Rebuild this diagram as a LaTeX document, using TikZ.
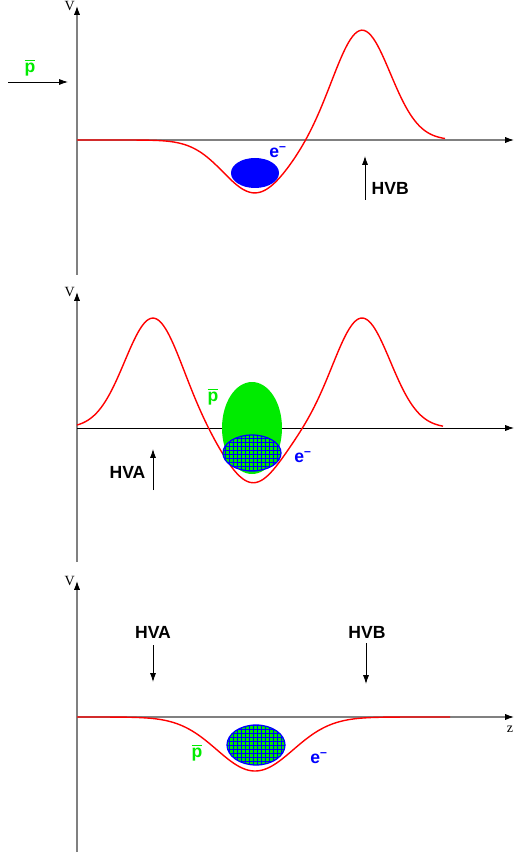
\documentclass[tikz,border=0pt]{standalone}
\usepackage{amsmath}
\usepackage{fontspec}
\setmainfont{Liberation Sans}
\newfontfamily\axisfont{Liberation Serif}
\usetikzlibrary{arrows, arrows.meta, positioning}
\definecolor{pbar}{RGB}{0,235,0}
\definecolor{axgray}{RGB}{128,128,128}

\begin{document}
\begin{tikzpicture}[x=0.02cm, y=-0.02cm]

\tikzset{axis/.style = {draw=axgray, line width=0.6pt, -{Latex[length=5pt,width=3.5pt,color=black]}}}
\tikzset{pot/.style = {red, line width=0.8pt}}
\tikzset{push/.style = {-{Latex[length=5pt,width=3.4pt]}, line width=0.5pt}}
\tikzset{lbl/.style = {font=\bfseries\fontsize{10}{12}\selectfont, inner sep=1pt}}
\tikzset{axlbl/.style = {font=\axisfont\fontsize{8}{9}\selectfont, inner sep=1pt}}
\tikzset{hatch/.style = {blue, line width=0.45pt}}

\useasboundingbox (0,0) rectangle (515,854);

% top panel: trap closed on the right
\coordinate (o1) at (77,140);
\coordinate (v1) at (77,6);
\coordinate (b1) at (77,275);
\coordinate (z1) at (514,140);
\draw[axis] (b1) -- (v1);
\draw[axis] (o1) -- (z1);
\node[axlbl, left=0pt] (V1) at (v1) {V};
\draw[pot] plot[domain=77:445, samples=160, smooth]
  (\x, {140 + 53*exp(-((\x-255)/45)*((\x-255)/45)) - 110*exp(-((\x-362)/40)*((\x-362)/40))});
\fill[blue] (255,173) ellipse [x radius=24, y radius=15];
\node[lbl, blue] (e1) at (278,152) {e\textsuperscript{\textendash}};
\coordinate (pin) at (8,82);
\coordinate (pout) at (68,82);
\draw[push] (pin) -- (pout);
\node[lbl, pbar] (p1) at (30,68) {$\overline{\mbox{\bfseries p}}$};
\coordinate (hvb1b) at (365,200);
\coordinate (hvb1t) at (365,156);
\draw[push] (hvb1b) -- (hvb1t);
\node[lbl, right=2pt] (hvb1) at (366,188) {HVB};

% middle panel: both walls up
\coordinate (o2) at (77,428);
\coordinate (v2) at (77,292);
\coordinate (b2) at (77,562);
\coordinate (z2) at (514,428);
\draw[axis] (b2) -- (v2);
\draw[axis, draw=black, line width=0.5pt] (o2) -- (z2);
\node[axlbl, left=0pt] (V2) at (v2) {V};
\draw[pot] plot[domain=77:443, samples=200, smooth]
  (\x, {428 - 110*exp(-((\x-153)/40)*((\x-153)/40)) - 110*exp(-((\x-362)/40)*((\x-362)/40)) + 55*exp(-((\x-253)/40)*((\x-253)/40))});
\fill[pbar] (252,428) ellipse [x radius=30, y radius=46];
\begin{scope}
  \clip (252,453) ellipse [x radius=29, y radius=18];
  \fill[pbar] (222,434) rectangle (282,472);
  \foreach \g in {221,225,...,285} \draw[hatch] (\g,432) -- (\g,474);
  \foreach \g in {434,438,...,474} \draw[hatch] (220,\g) -- (284,\g);
\end{scope}
\draw[blue, line width=0.7pt] (252,453) ellipse [x radius=29, y radius=18];
\node[lbl, pbar] (p2) at (213,397) {$\overline{\mbox{\bfseries p}}$};
\node[lbl, blue] (e2) at (303,457) {e\textsuperscript{\textendash}};
\coordinate (hva2b) at (153,490);
\coordinate (hva2t) at (153,449);
\draw[push] (hva2b) -- (hva2t);
\node[lbl, left=2pt] (hva2) at (151,472) {HVA};

% bottom panel: walls down, mixing
\coordinate (o3) at (77,717);
\coordinate (v3) at (77,581);
\coordinate (b3) at (77,852);
\coordinate (z3) at (514,717);
\draw[axis] (b3) -- (v3);
\draw[axis] (o3) -- (z3);
\node[axlbl, left=0pt] (V3) at (v3) {V};
\node[axlbl] (Z3) at (510,729) {z};
\draw[pot] plot[domain=77:450, samples=160, smooth]
  (\x, {717 + 54*exp(-((\x-255)/54)*((\x-255)/54))});
\begin{scope}
  \clip (256,745) ellipse [x radius=29, y radius=20];
  \fill[pbar] (226,724) rectangle (286,766);
  \foreach \g in {225,229,...,289} \draw[hatch] (\g,722) -- (\g,768);
  \foreach \g in {725,729,...,769} \draw[hatch] (224,\g) -- (288,\g);
\end{scope}
\draw[blue, line width=0.7pt] (256,745) ellipse [x radius=29, y radius=20];
\node[lbl, pbar] (p3) at (197,753) {$\overline{\mbox{\bfseries p}}$};
\node[lbl, blue] (e3) at (319,758) {e\textsuperscript{\textendash}};
\node[lbl] (hva3) at (153,632) {HVA};
\coordinate (hva3t) at (153,645);
\coordinate (hva3b) at (153,682);
\draw[push] (hva3t) -- (hva3b);
\node[lbl] (hvb3) at (367,632) {HVB};
\coordinate (hvb3t) at (366,643);
\coordinate (hvb3b) at (366,684);
\draw[push] (hvb3t) -- (hvb3b);
\end{tikzpicture}
\end{document}
